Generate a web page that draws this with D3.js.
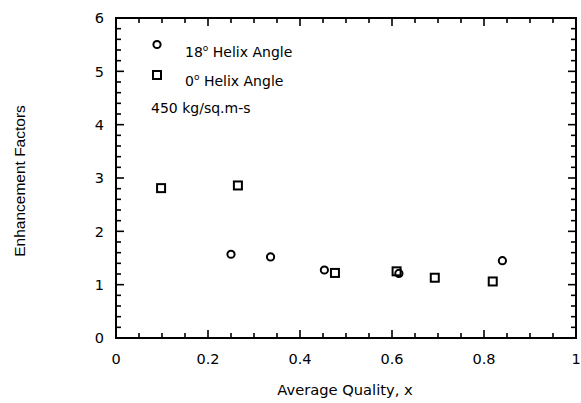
<!DOCTYPE html>
<html><head><meta charset="utf-8">
<script src="https://cdn.jsdelivr.net/npm/d3@7"></script>
<style>body{margin:0;background:#fff}svg{display:block}</style>
</head><body>
<script>
const helix18X = [0.250, 0.336, 0.453, 0.615, 0.840];
const helix18Y = [1.57, 1.52, 1.275, 1.21, 1.45];
const helix0X = [0.098, 0.265, 0.476, 0.610, 0.693, 0.819];
const helix0Y = [2.81, 2.86, 1.22, 1.25, 1.13, 1.06];
const xTicks = [0, 0.2, 0.4, 0.6, 0.8, 1];
const xTickLabels = ["0", "0.2", "0.4", "0.6", "0.8", "1"];
const yTicks = [0, 1, 2, 3, 4, 5, 6];
const legendLabels = ["18", "0"];
const noteText = "450 kg/sq.m-s";

const W = 581, H = 403;
const svg = d3.select("body").append("svg").attr("width", W).attr("height", H);
const x = d3.scaleLinear().domain([0, 1]).range([116, 576]);
const y = d3.scaleLinear().domain([0, 6]).range([338, 18]);
const font = "'DejaVu Sans', sans-serif";

// minor/major ticks
const xMinor = d3.range(0, 1.0001, 0.05);
const yMinor = d3.range(0, 6.0001, 0.2);
const isMajX = v => Math.abs(v * 5 - Math.round(v * 5)) < 1e-6;
const isMajY = v => Math.abs(v - Math.round(v)) < 1e-6;
const g = svg.append("g").attr("stroke", "#000").attr("stroke-width", 1.6);
xMinor.forEach(v => {
  const L = isMajX(v) ? 8 : 5;
  g.append("line").attr("x1", x(v)).attr("x2", x(v)).attr("y1", y(0)).attr("y2", y(0) - L);
  g.append("line").attr("x1", x(v)).attr("x2", x(v)).attr("y1", y(6)).attr("y2", y(6) + L);
});
yMinor.forEach(v => {
  const L = isMajY(v) ? 8 : 5;
  g.append("line").attr("y1", y(v)).attr("y2", y(v)).attr("x1", x(0)).attr("x2", x(0) + L);
  g.append("line").attr("y1", y(v)).attr("y2", y(v)).attr("x1", x(1)).attr("x2", x(1) - L);
});
svg.append("rect").attr("x", x(0)).attr("y", y(6)).attr("width", x(1) - x(0)).attr("height", y(0) - y(6))
  .attr("fill", "none").attr("stroke", "#000").attr("stroke-width", 2);

// tick labels
svg.selectAll(".xl").data(xTicks).enter().append("text")
  .attr("x", d => x(d)).attr("y", 364).attr("text-anchor", "middle")
  .attr("font-family", font).attr("font-size", 14.5).text((d, i) => xTickLabels[i]);
svg.selectAll(".yl").data(yTicks).enter().append("text")
  .attr("x", 104).attr("y", d => y(d) + 5.2).attr("text-anchor", "end")
  .attr("font-family", font).attr("font-size", 14.5).text(d => d);

// axis titles
svg.append("text").attr("x", 345).attr("y", 395).attr("text-anchor", "middle")
  .attr("font-family", font).attr("font-size", 14.7).text("Average Quality, x");
svg.append("text").attr("transform", "translate(25,181) rotate(-90)").attr("text-anchor", "middle")
  .attr("font-family", "'Liberation Sans', Arial, sans-serif").attr("font-size", 15.5).text("Enhancement Factors");

// data markers
svg.selectAll(".c").data(helix18X).enter().append("circle")
  .attr("cx", d => x(d)).attr("cy", (d, i) => y(helix18Y[i])).attr("r", 3.6)
  .attr("fill", "none").attr("stroke", "#000").attr("stroke-width", 2);
svg.selectAll(".s").data(helix0X).enter().append("rect")
  .attr("x", d => x(d) - 4).attr("y", (d, i) => y(helix0Y[i]) - 4).attr("width", 8).attr("height", 8)
  .attr("fill", "none").attr("stroke", "#000").attr("stroke-width", 2);

// legend
svg.append("circle").attr("cx", 157).attr("cy", 44.5).attr("r", 3.6)
  .attr("fill", "none").attr("stroke", "#000").attr("stroke-width", 2);
svg.append("rect").attr("x", 153).attr("y", 71).attr("width", 8).attr("height", 8)
  .attr("fill", "none").attr("stroke", "#000").attr("stroke-width", 2);
[[legendLabels[0], 57], [legendLabels[1], 86]].forEach(([lab, by]) => {
  const t = svg.append("text").attr("x", 185).attr("y", by).attr("font-family", font).attr("font-size", 14);
  t.append("tspan").text(lab);
  t.append("tspan").attr("font-size", 9).attr("dy", -6).text("o");
  t.append("tspan").attr("dy", 6).text(" Helix Angle");
});
svg.append("text").attr("x", 151).attr("y", 113).attr("font-family", font).attr("font-size", 14).text(noteText);
</script>
</body></html>
